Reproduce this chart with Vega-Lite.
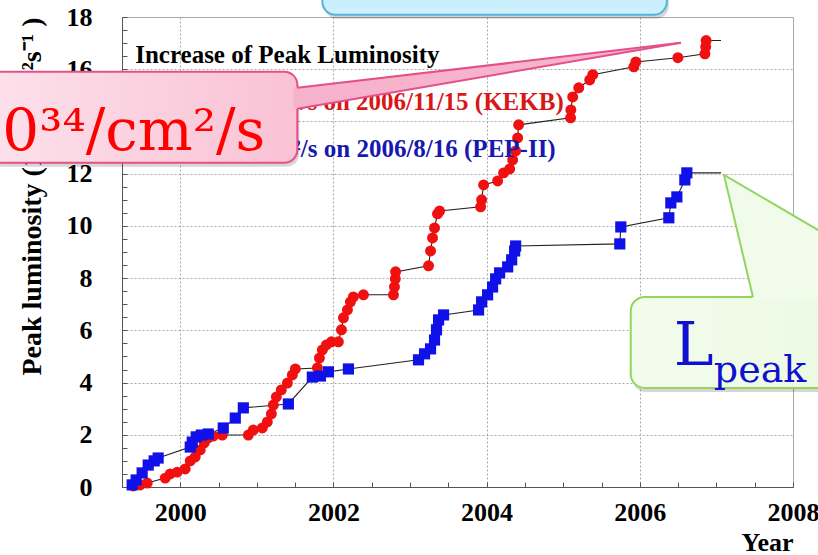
{
  "$schema": "https://vega.github.io/schema/vega-lite/v6.json",
  "width": 671,
  "height": 470,
  "autosize": {"type": "none"},
  "padding": {"left": 122, "top": 17, "right": 25, "bottom": 68},
  "background": "#ffffff",
  "config": {
    "view": {"stroke": "#aaaaaa", "strokeWidth": 1},
    "axis": {
      "labelFont": "Liberation Serif", "labelFontWeight": "bold", "labelFontSize": 26, "labelColor": "#000000",
      "titleFont": "Liberation Serif", "titleFontWeight": "bold", "titleFontSize": 26, "titleColor": "#000000",
      "domainColor": "#555555", "tickColor": "#555555", "gridColor": "#a8a8a8", "gridDash": [2, 2], "labelOverlap": false, "labelFlush": false
    }
  },
  "datasets": {
    "lum": [
      {"machine": "KEKB", "year": 1999.386, "lum": 0.04, "measured": true},
      {"machine": "KEKB", "year": 1999.477, "lum": 0.08, "measured": true},
      {"machine": "KEKB", "year": 1999.569, "lum": 0.15, "measured": true},
      {"machine": "KEKB", "year": 1999.804, "lum": 0.34, "measured": true},
      {"machine": "KEKB", "year": 1999.869, "lum": 0.50, "measured": true},
      {"machine": "KEKB", "year": 1999.961, "lum": 0.57, "measured": true},
      {"machine": "KEKB", "year": 2000.065, "lum": 0.69, "measured": true},
      {"machine": "KEKB", "year": 2000.131, "lum": 1.00, "measured": true},
      {"machine": "KEKB", "year": 2000.196, "lum": 1.15, "measured": true},
      {"machine": "KEKB", "year": 2000.261, "lum": 1.42, "measured": true},
      {"machine": "KEKB", "year": 2000.314, "lum": 1.69, "measured": true},
      {"machine": "KEKB", "year": 2000.366, "lum": 1.88, "measured": true},
      {"machine": "KEKB", "year": 2000.431, "lum": 1.95, "measured": true},
      {"machine": "KEKB", "year": 2000.549, "lum": 1.99, "measured": true},
      {"machine": "KEKB", "year": 2000.889, "lum": 1.99, "measured": true},
      {"machine": "KEKB", "year": 2000.954, "lum": 2.18, "measured": true},
      {"machine": "KEKB", "year": 2001.072, "lum": 2.26, "measured": true},
      {"machine": "KEKB", "year": 2001.137, "lum": 2.49, "measured": true},
      {"machine": "KEKB", "year": 2001.190, "lum": 2.80, "measured": true},
      {"machine": "KEKB", "year": 2001.216, "lum": 3.14, "measured": true},
      {"machine": "KEKB", "year": 2001.255, "lum": 3.45, "measured": true},
      {"machine": "KEKB", "year": 2001.320, "lum": 3.72, "measured": true},
      {"machine": "KEKB", "year": 2001.399, "lum": 3.98, "measured": true},
      {"machine": "KEKB", "year": 2001.464, "lum": 4.29, "measured": true},
      {"machine": "KEKB", "year": 2001.503, "lum": 4.52, "measured": true},
      {"machine": "KEKB", "year": 2001.791, "lum": 4.56, "measured": true},
      {"machine": "KEKB", "year": 2001.817, "lum": 4.94, "measured": true},
      {"machine": "KEKB", "year": 2001.856, "lum": 5.25, "measured": true},
      {"machine": "KEKB", "year": 2001.908, "lum": 5.44, "measured": true},
      {"machine": "KEKB", "year": 2001.974, "lum": 5.56, "measured": true},
      {"machine": "KEKB", "year": 2002.065, "lum": 5.56, "measured": true},
      {"machine": "KEKB", "year": 2002.105, "lum": 6.02, "measured": true},
      {"machine": "KEKB", "year": 2002.131, "lum": 6.48, "measured": true},
      {"machine": "KEKB", "year": 2002.183, "lum": 6.78, "measured": true},
      {"machine": "KEKB", "year": 2002.222, "lum": 7.09, "measured": true},
      {"machine": "KEKB", "year": 2002.261, "lum": 7.28, "measured": true},
      {"machine": "KEKB", "year": 2002.392, "lum": 7.36, "measured": true},
      {"machine": "KEKB", "year": 2002.784, "lum": 7.36, "measured": true},
      {"machine": "KEKB", "year": 2002.797, "lum": 7.66, "measured": true},
      {"machine": "KEKB", "year": 2002.808, "lum": 7.97, "measured": true},
      {"machine": "KEKB", "year": 2002.812, "lum": 8.24, "measured": true},
      {"machine": "KEKB", "year": 2003.242, "lum": 8.47, "measured": true},
      {"machine": "KEKB", "year": 2003.268, "lum": 9.04, "measured": true},
      {"machine": "KEKB", "year": 2003.294, "lum": 9.54, "measured": true},
      {"machine": "KEKB", "year": 2003.320, "lum": 9.92, "measured": true},
      {"machine": "KEKB", "year": 2003.359, "lum": 10.46, "measured": true},
      {"machine": "KEKB", "year": 2003.386, "lum": 10.57, "measured": true},
      {"machine": "KEKB", "year": 2003.922, "lum": 10.73, "measured": true},
      {"machine": "KEKB", "year": 2003.935, "lum": 11.00, "measured": true},
      {"machine": "KEKB", "year": 2003.961, "lum": 11.57, "measured": true},
      {"machine": "KEKB", "year": 2004.144, "lum": 11.72, "measured": true},
      {"machine": "KEKB", "year": 2004.222, "lum": 12.03, "measured": true},
      {"machine": "KEKB", "year": 2004.301, "lum": 12.18, "measured": true},
      {"machine": "KEKB", "year": 2004.340, "lum": 12.53, "measured": true},
      {"machine": "KEKB", "year": 2004.379, "lum": 12.87, "measured": true},
      {"machine": "KEKB", "year": 2004.405, "lum": 13.37, "measured": true},
      {"machine": "KEKB", "year": 2004.418, "lum": 13.87, "measured": true},
      {"machine": "KEKB", "year": 2005.096, "lum": 14.14, "measured": true},
      {"machine": "KEKB", "year": 2005.100, "lum": 14.44, "measured": true},
      {"machine": "KEKB", "year": 2005.124, "lum": 14.94, "measured": true},
      {"machine": "KEKB", "year": 2005.203, "lum": 15.29, "measured": true},
      {"machine": "KEKB", "year": 2005.346, "lum": 15.59, "measured": true},
      {"machine": "KEKB", "year": 2005.386, "lum": 15.79, "measured": true},
      {"machine": "KEKB", "year": 2005.922, "lum": 16.09, "measured": true},
      {"machine": "KEKB", "year": 2005.948, "lum": 16.28, "measured": true},
      {"machine": "KEKB", "year": 2006.497, "lum": 16.44, "measured": true},
      {"machine": "KEKB", "year": 2006.850, "lum": 16.59, "measured": true},
      {"machine": "KEKB", "year": 2006.860, "lum": 16.86, "measured": true},
      {"machine": "KEKB", "year": 2006.866, "lum": 17.10, "measured": true},
      {"machine": "KEKB", "year": 2007.060, "lum": 17.10, "measured": false},
      {"machine": "PEP-II", "year": 1999.373, "lum": 0.08, "measured": true},
      {"machine": "PEP-II", "year": 1999.425, "lum": 0.27, "measured": true},
      {"machine": "PEP-II", "year": 1999.503, "lum": 0.54, "measured": true},
      {"machine": "PEP-II", "year": 1999.582, "lum": 0.84, "measured": true},
      {"machine": "PEP-II", "year": 1999.660, "lum": 1.00, "measured": true},
      {"machine": "PEP-II", "year": 1999.712, "lum": 1.11, "measured": true},
      {"machine": "PEP-II", "year": 2000.131, "lum": 1.53, "measured": true},
      {"machine": "PEP-II", "year": 2000.157, "lum": 1.72, "measured": true},
      {"machine": "PEP-II", "year": 2000.209, "lum": 1.92, "measured": true},
      {"machine": "PEP-II", "year": 2000.275, "lum": 1.99, "measured": true},
      {"machine": "PEP-II", "year": 2000.366, "lum": 2.03, "measured": true},
      {"machine": "PEP-II", "year": 2000.562, "lum": 2.26, "measured": true},
      {"machine": "PEP-II", "year": 2000.719, "lum": 2.64, "measured": true},
      {"machine": "PEP-II", "year": 2000.824, "lum": 3.03, "measured": true},
      {"machine": "PEP-II", "year": 2001.412, "lum": 3.18, "measured": true},
      {"machine": "PEP-II", "year": 2001.725, "lum": 4.21, "measured": true},
      {"machine": "PEP-II", "year": 2001.830, "lum": 4.25, "measured": true},
      {"machine": "PEP-II", "year": 2001.935, "lum": 4.41, "measured": true},
      {"machine": "PEP-II", "year": 2002.196, "lum": 4.52, "measured": true},
      {"machine": "PEP-II", "year": 2003.111, "lum": 4.87, "measured": true},
      {"machine": "PEP-II", "year": 2003.190, "lum": 5.10, "measured": true},
      {"machine": "PEP-II", "year": 2003.268, "lum": 5.29, "measured": true},
      {"machine": "PEP-II", "year": 2003.320, "lum": 5.63, "measured": true},
      {"machine": "PEP-II", "year": 2003.346, "lum": 6.02, "measured": true},
      {"machine": "PEP-II", "year": 2003.373, "lum": 6.40, "measured": true},
      {"machine": "PEP-II", "year": 2003.438, "lum": 6.59, "measured": true},
      {"machine": "PEP-II", "year": 2003.895, "lum": 6.78, "measured": true},
      {"machine": "PEP-II", "year": 2003.935, "lum": 7.09, "measured": true},
      {"machine": "PEP-II", "year": 2004.013, "lum": 7.36, "measured": true},
      {"machine": "PEP-II", "year": 2004.078, "lum": 7.66, "measured": true},
      {"machine": "PEP-II", "year": 2004.118, "lum": 7.97, "measured": true},
      {"machine": "PEP-II", "year": 2004.170, "lum": 8.20, "measured": true},
      {"machine": "PEP-II", "year": 2004.275, "lum": 8.43, "measured": true},
      {"machine": "PEP-II", "year": 2004.327, "lum": 8.70, "measured": true},
      {"machine": "PEP-II", "year": 2004.366, "lum": 9.04, "measured": true},
      {"machine": "PEP-II", "year": 2004.379, "lum": 9.23, "measured": true},
      {"machine": "PEP-II", "year": 2005.739, "lum": 9.31, "measured": true},
      {"machine": "PEP-II", "year": 2005.752, "lum": 9.96, "measured": true},
      {"machine": "PEP-II", "year": 2006.379, "lum": 10.31, "measured": true},
      {"machine": "PEP-II", "year": 2006.405, "lum": 10.88, "measured": true},
      {"machine": "PEP-II", "year": 2006.484, "lum": 11.11, "measured": true},
      {"machine": "PEP-II", "year": 2006.588, "lum": 11.76, "measured": true},
      {"machine": "PEP-II", "year": 2006.614, "lum": 12.03, "measured": true},
      {"machine": "PEP-II", "year": 2007.060, "lum": 12.03, "measured": false}
    ]
  },
  "layer": [
    {
      "data": {"name": "lum"},
      "mark": {"type": "line", "color": "#222222", "strokeWidth": 1.1},
      "encoding": {
        "x": {
          "field": "year", "type": "quantitative",
          "scale": {"domain": [1999.24, 2008], "nice": false, "zero": false},
          "axis": {
            "title": "Year", "titleAnchor": "end", "titleAlign": "right", "titlePadding": 4,
            "values": [1999.5, 2000, 2000.5, 2001, 2001.5, 2002, 2002.5, 2003, 2003.5, 2004, 2004.5, 2005, 2005.5, 2006, 2006.5, 2007, 2007.5, 2008],
            "tickCount": 200,
            "labelExpr": "datum.value % 2 === 0 ? format(datum.value, 'd') : ''",
            "grid": true,
            "gridOpacity": {"condition": {"test": "datum.value % 2 === 0", "value": 1}, "value": 0},
            "tickSize": -5, "labelPadding": 17
          }
        },
        "y": {
          "field": "lum", "type": "quantitative",
          "scale": {"domain": [0, 18], "nice": false, "zero": false},
          "axis": {
            "title": "Peak luminosity (10³³ cm⁻²s⁻¹ )", "titleAnchor": "end", "titlePadding": 20, "titleFontSize": 28,
            "values": [0, 0.5, 1, 1.5, 2, 2.5, 3, 3.5, 4, 4.5, 5, 5.5, 6, 6.5, 7, 7.5, 8, 8.5, 9, 9.5, 10, 10.5, 11, 11.5, 12, 12.5, 13, 13.5, 14, 14.5, 15, 15.5, 16, 16.5, 17, 17.5, 18],
            "tickCount": 200,
            "labelExpr": "datum.value % 2 === 0 ? format(datum.value, 'd') : ''",
            "grid": true,
            "gridOpacity": {"condition": {"test": "datum.value % 2 === 0", "value": 1}, "value": 0},
            "tickSize": -5, "labelPadding": 35
          }
        },
        "detail": {"field": "machine"}
      }
    },
    {
      "data": {"name": "lum"},
      "transform": [{"filter": "datum.measured"}],
      "mark": {"type": "point", "filled": true, "opacity": 1},
      "encoding": {
        "x": {"field": "year", "type": "quantitative"},
        "y": {"field": "lum", "type": "quantitative"},
        "color": {"field": "machine", "type": "nominal", "scale": {"domain": ["KEKB", "PEP-II"], "range": ["#f01010", "#1010e8"]}, "legend": null},
        "shape": {"field": "machine", "type": "nominal", "scale": {"domain": ["KEKB", "PEP-II"], "range": ["circle", "square"]}, "legend": null},
        "size": {"field": "machine", "type": "nominal", "scale": {"domain": ["KEKB", "PEP-II"], "range": [120, 125]}, "legend": null}
      }
    },
    {
      "data": {"values": [{"year": 1999.412, "lum": 16.245, "label": "Increase of Peak Luminosity"}]},
      "mark": {"type": "text", "align": "left", "baseline": "alphabetic", "font": "Liberation Serif", "fontWeight": "bold", "fontSize": 25, "color": "#000000"},
      "encoding": {"x": {"field": "year", "type": "quantitative"}, "y": {"field": "lum", "type": "quantitative"}, "text": {"field": "label"}}
    },
    {
      "data": {"values": [{"year": 2005.007, "lum": 14.444, "label": "1.71×10³⁴/cm²/s on 2006/11/15 (KEKB)"}]},
      "mark": {"type": "text", "align": "right", "baseline": "alphabetic", "font": "Liberation Serif", "fontWeight": "bold", "fontSize": 25, "color": "#d81818"},
      "encoding": {"x": {"field": "year", "type": "quantitative"}, "y": {"field": "lum", "type": "quantitative"}, "text": {"field": "label"}}
    },
    {
      "data": {"values": [{"year": 2004.902, "lum": 12.644, "label": "1.21×10³⁴/cm²/s on 2006/8/16 (PEP-II)"}]},
      "mark": {"type": "text", "align": "right", "baseline": "alphabetic", "font": "Liberation Serif", "fontWeight": "bold", "fontSize": 25, "color": "#1818b0"},
      "encoding": {"x": {"field": "year", "type": "quantitative"}, "y": {"field": "lum", "type": "quantitative"}, "text": {"field": "label"}}
    },
    {
      "data": {"values": [
        {"x1": 1996.89, "x2": 2001.555, "y1": 15.747, "y2": 12.261},
        {"x1": 2001.88, "x2": 2006.379, "y1": 20.19, "y2": 17.931},
        {"x1": 2005.908, "x2": 2010.75, "y1": 7.126, "y2": 3.64}
      ]},
      "mark": {"type": "rect", "cornerRadius": 13, "color": "#000000", "opacity": 0.16},
      "encoding": {"x": {"field": "x1", "type": "quantitative"}, "x2": {"field": "x2"}, "y": {"field": "y1", "type": "quantitative"}, "y2": {"field": "y2"}}
    },
    {
      "data": {"values": [{"x1": 1996.863, "x2": 2001.529, "y1": 15.9, "y2": 12.414}]},
      "mark": {"type": "rect", "cornerRadius": 13, "strokeWidth": 2, "stroke": "#e4508a",
        "fill": {"gradient": "linear", "x1": 0, "y1": 0, "x2": 1, "y2": 0, "stops": [{"offset": 0, "color": "#fde6ee"}, {"offset": 1, "color": "#fac2d4"}]}},
      "encoding": {"x": {"field": "x1", "type": "quantitative"}, "x2": {"field": "x2"}, "y": {"field": "y1", "type": "quantitative"}, "y2": {"field": "y2"}}
    },
    {
      "data": {"values": [
        {"year": 2001.48, "top": 15.29, "bottom": 14.48},
        {"year": 2006.536, "top": 17.011, "bottom": 17.011}
      ]},
      "mark": {"type": "area", "color": "#f7b3cb", "opacity": 1},
      "encoding": {"x": {"field": "year", "type": "quantitative"}, "y": {"field": "top", "type": "quantitative"}, "y2": {"field": "bottom"}}
    },
    {
      "data": {"values": [
        {"edge": "upper", "year": 2001.529, "lum": 15.287},
        {"edge": "upper", "year": 2006.536, "lum": 17.011},
        {"edge": "lower", "year": 2001.529, "lum": 14.483},
        {"edge": "lower", "year": 2006.536, "lum": 17.011}
      ]},
      "mark": {"type": "line", "color": "#e4508a", "strokeWidth": 2},
      "encoding": {"x": {"field": "year", "type": "quantitative"}, "y": {"field": "lum", "type": "quantitative"}, "detail": {"field": "edge"}}
    },
    {
      "data": {"values": [{"year": 2001.111, "lum": 12.912, "label": "1.71×10³⁴/cm²/s"}]},
      "mark": {"type": "text", "align": "right", "baseline": "alphabetic", "font": "DejaVu Serif", "fontSize": 58, "color": "#ff0000"},
      "encoding": {"x": {"field": "year", "type": "quantitative"}, "y": {"field": "lum", "type": "quantitative"}, "text": {"field": "label"}}
    },
    {
      "data": {"values": [{"x1": 2001.856, "x2": 2006.353, "y1": 20.19, "y2": 18.084}]},
      "mark": {"type": "rect", "cornerRadius": 13, "strokeWidth": 2, "stroke": "#58b2de",
        "fill": {"gradient": "linear", "x1": 0, "y1": 0, "x2": 0, "y2": 1, "stops": [{"offset": 0, "color": "#bfeafb"}, {"offset": 1, "color": "#cdf0fc"}]}},
      "encoding": {"x": {"field": "x1", "type": "quantitative"}, "x2": {"field": "x2"}, "y": {"field": "y1", "type": "quantitative"}, "y2": {"field": "y2"}}
    },
    {
      "data": {"values": [{"x1": 2005.882, "x2": 2010.72, "y1": 7.28, "y2": 3.793}]},
      "mark": {"type": "rect", "cornerRadius": 14, "strokeWidth": 2, "stroke": "#90d660",
        "fill": {"gradient": "linear", "x1": 0, "y1": 0, "x2": 1, "y2": 0, "stops": [{"offset": 0, "color": "#f2fcec"}, {"offset": 1, "color": "#e8f8dc"}]}},
      "encoding": {"x": {"field": "x1", "type": "quantitative"}, "x2": {"field": "x2"}, "y": {"field": "y1", "type": "quantitative"}, "y2": {"field": "y2"}}
    },
    {
      "data": {"values": [
        {"lum": 11.954, "left": 2007.098, "right": 2007.098},
        {"lum": 7.165, "left": 2007.48, "right": 2009.82}
      ]},
      "mark": {"type": "area", "orient": "horizontal", "color": "#f0fbe9", "opacity": 1},
      "encoding": {"y": {"field": "lum", "type": "quantitative"}, "x": {"field": "left", "type": "quantitative"}, "x2": {"field": "right"}}
    },
    {
      "data": {"values": [
        {"edge": "left", "year": 2007.098, "lum": 11.954},
        {"edge": "left", "year": 2007.477, "lum": 7.28},
        {"edge": "right", "year": 2007.098, "lum": 11.954},
        {"edge": "right", "year": 2009.817, "lum": 7.28}
      ]},
      "mark": {"type": "line", "color": "#90d660", "strokeWidth": 2},
      "encoding": {"x": {"field": "year", "type": "quantitative"}, "y": {"field": "lum", "type": "quantitative"}, "detail": {"field": "edge"}}
    },
    {
      "data": {"values": [{"year": 2006.444, "lum": 4.674, "label": "L"}]},
      "mark": {"type": "text", "align": "left", "baseline": "alphabetic", "font": "DejaVu Serif", "fontSize": 60, "color": "#1010d0"},
      "encoding": {"x": {"field": "year", "type": "quantitative"}, "y": {"field": "lum", "type": "quantitative"}, "text": {"field": "label"}}
    },
    {
      "data": {"values": [{"year": 2006.967, "lum": 4.023, "label": "peak"}]},
      "mark": {"type": "text", "align": "left", "baseline": "alphabetic", "font": "DejaVu Serif", "fontSize": 38, "color": "#1010d0"},
      "encoding": {"x": {"field": "year", "type": "quantitative"}, "y": {"field": "lum", "type": "quantitative"}, "text": {"field": "label"}}
    }
  ]
}
